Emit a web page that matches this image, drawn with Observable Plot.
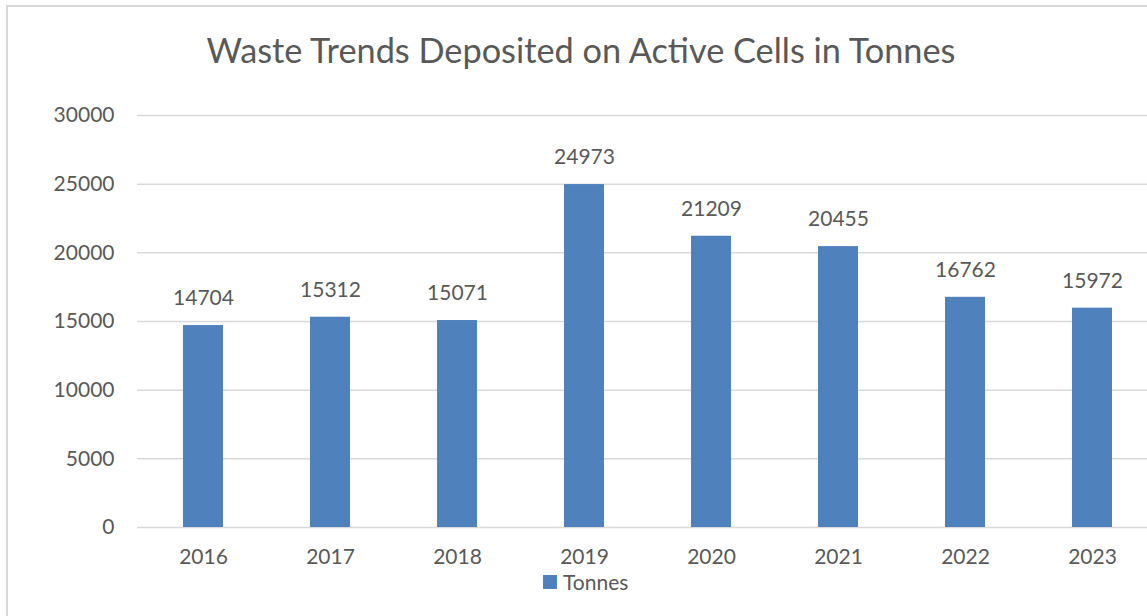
<!DOCTYPE html>
<html>
<head>
<meta charset="utf-8">
<script src="https://cdn.jsdelivr.net/npm/d3@7"></script>
<script src="https://cdn.jsdelivr.net/npm/@observablehq/plot@0.6"></script>
<style>
  html, body { margin: 0; padding: 0; background: #fff; }
  #wrap { position: relative; width: 1147px; height: 616px; overflow: hidden; font-family: Lato, sans-serif; color: #595959; }
  #frame { position: absolute; left: 6px; top: 5px; width: 1180px; height: 640px; border: 2px solid #d9d9d9; box-sizing: border-box; }
  #title { position: absolute; left: 0; width: 1162px; top: 30px; text-align: center; font-size: 34.3px; line-height: 40px; white-space: nowrap; }
  #chart { position: absolute; left: 0; top: 0; width: 1160px; height: 616px; }
  #chart svg { max-width: none !important; }
  #legend { position: absolute; left: 543px; top: 569px; font-size: 21px; display: flex; align-items: center; }
  #legend .sw { width: 14px; height: 14px; background: #4f81bd; margin-right: 6px; }
</style>
</head>
<body>
<div id="wrap">
  <div id="frame"></div>
  <div id="chart"></div>
  <div id="title"></div>
  <div id="legend"></div>
</div>
<script>
const titleText = "Waste Trends Deposited on Active Cells in Tonnes";
const seriesName = "Tonnes";
const years = ["2016", "2017", "2018", "2019", "2020", "2021", "2022", "2023"];
const tonnes = [14704, 15312, 15071, 24973, 21209, 20455, 16762, 15972];
const yTicks = [0, 5000, 10000, 15000, 20000, 25000, 30000];

const data = years.map((y, i) => ({year: y, value: tonnes[i]}));
const barColor = "#4f81bd";
const textColor = "#595959";

const plot = Plot.plot({
  width: 1160,
  height: 616,
  marginLeft: 137,
  marginRight: 2,
  marginTop: 115,
  marginBottom: 89,
  style: {fontFamily: "Lato, sans-serif", fontSize: "21px", color: textColor, background: "transparent"},
  x: {domain: years, paddingInner: 0.686, paddingOuter: 0.343, label: null, tickSize: 0, tickPadding: 22},
  y: {domain: [0, 30000], ticks: yTicks, label: null, tickSize: 0, tickPadding: 23, tickFormat: d => String(d)},
  marks: [
    Plot.gridY(yTicks, {stroke: "#d9d9d9", strokeOpacity: 1, strokeWidth: 1.5}),
    Plot.barY(data, {x: "year", y: "value", fill: barColor}),
    Plot.text(data, {x: "year", y: "value", text: d => String(d.value), dy: -27, fill: textColor, fontSize: 21}),
    Plot.axisX({tickSize: 0, tickPadding: 22, fill: textColor}),
    Plot.axisY({ticks: yTicks, tickSize: 0, tickPadding: 23, tickFormat: d => String(d), fill: textColor})
  ]
});
document.getElementById("chart").appendChild(plot);
document.getElementById("title").textContent = titleText;
const lg = document.getElementById("legend");
lg.innerHTML = '<span class="sw"></span><span></span>';
lg.lastChild.textContent = seriesName;
</script>
</body>
</html>
